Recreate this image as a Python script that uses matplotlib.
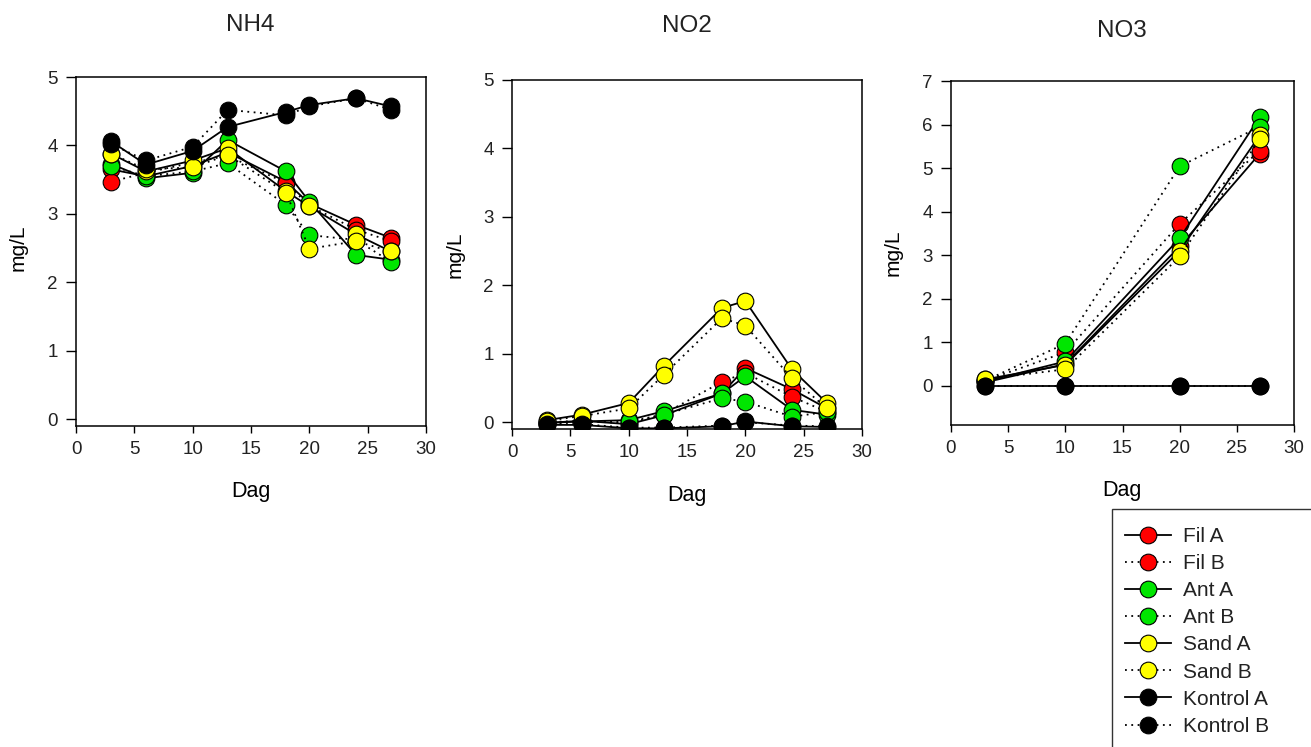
"""
Nitrogen species over time (NH4, NO2, NO3) for filter, Ant, sand and control columns.
Three panels side by side, shared legend at bottom right.
"""

import matplotlib
matplotlib.use("Agg")
import matplotlib.pyplot as plt
from matplotlib.lines import Line2D
from matplotlib.patches import Rectangle

plt.rcParams["font.family"] = ["Liberation Sans", "DejaVu Sans"]

W, H = 1311, 747

series_names = ["Fil A", "Fil B", "Ant A", "Ant B", "Sand A", "Sand B", "Kontrol A", "Kontrol B"]
series_colors = ["#ff0000", "#ff0000", "#00e600", "#00e600", "#ffff00", "#ffff00", "#000000", "#000000"]
series_styles = ["-", (0, (1, 2.5)), "-", (0, (1, 2.5)), "-", (0, (1, 2.5)), "-", (0, (1, 2.5))]

# NH4 (mg/L)
nh4_days = [3, 6, 10, 13, 18, 20, 24, 27]
nh4_fil_a = [3.65, 3.55, 3.70, 3.90, 3.47, 3.15, 2.84, 2.65]
nh4_fil_b = [3.47, 3.60, 3.75, 3.85, 3.45, 3.12, 2.77, 2.60]
nh4_ant_a = [3.73, 3.52, 3.60, 4.08, 3.62, 3.18, 2.40, 2.33]
nh4_ant_b = [3.70, 3.55, 3.62, 3.74, 3.13, 2.69, 2.62, 2.30]
nh4_sand_a = [3.88, 3.62, 3.78, 3.96, 3.33, 3.11, 2.70, 2.45]
nh4_sand_b = [3.88, 3.65, 3.68, 3.86, 3.31, 2.49, 2.60, 2.45]
nh4_kontrol_a = [4.06, 3.72, 3.92, 4.27, 4.49, 4.59, 4.69, 4.57]
nh4_kontrol_b = [4.02, 3.78, 3.98, 4.52, 4.44, 4.57, 4.69, 4.52]

# NO2 (mg/L)
no2_days = [3, 6, 10, 13, 18, 20, 24, 27]
no2_fil_a = [-0.01, 0.02, -0.03, 0.10, 0.42, 0.79, 0.48, 0.20]
no2_fil_b = [0.00, 0.02, -0.02, 0.12, 0.59, 0.72, 0.37, 0.15]
no2_ant_a = [-0.01, 0.01, 0.03, 0.16, 0.42, 0.67, 0.18, 0.11]
no2_ant_b = [-0.02, 0.00, 0.01, 0.11, 0.35, 0.30, 0.08, 0.15]
no2_sand_a = [0.03, 0.11, 0.28, 0.82, 1.67, 1.77, 0.77, 0.28]
no2_sand_b = [0.02, 0.09, 0.20, 0.69, 1.52, 1.41, 0.64, 0.20]
no2_kontrol_a = [-0.04, -0.04, -0.09, -0.09, -0.06, 0.01, -0.06, -0.07]
no2_kontrol_b = [-0.03, -0.03, -0.08, -0.08, -0.05, 0.00, -0.05, -0.06]

# NO3 (mg/L)
no3_days = [3, 10, 20, 27]
no3_fil_a = [0.08, 0.50, 3.20, 5.33]
no3_fil_b = [0.12, 0.77, 3.72, 5.40]
no3_ant_a = [0.10, 0.56, 3.39, 6.17]
no3_ant_b = [0.12, 0.97, 5.04, 5.95]
no3_sand_a = [0.15, 0.48, 3.10, 5.75]
no3_sand_b = [0.15, 0.38, 2.97, 5.66]
no3_kontrol_a = [0.00, 0.00, 0.00, 0.00]
no3_kontrol_b = [0.00, 0.00, 0.00, 0.00]

panels = [
    ("NH4", nh4_days, [nh4_fil_a, nh4_fil_b, nh4_ant_a, nh4_ant_b,
                       nh4_sand_a, nh4_sand_b, nh4_kontrol_a, nh4_kontrol_b],
     (-0.1, 5), range(0, 6)),
    ("NO2", no2_days, [no2_fil_a, no2_fil_b, no2_ant_a, no2_ant_b,
                       no2_sand_a, no2_sand_b, no2_kontrol_a, no2_kontrol_b],
     (-0.1, 5), range(0, 6)),
    ("NO3", no3_days, [no3_fil_a, no3_fil_b, no3_ant_a, no3_ant_b,
                       no3_sand_a, no3_sand_b, no3_kontrol_a, no3_kontrol_b],
     (-0.9, 7), range(0, 8)),
]

# axes boxes in pixels: left, top, right, bottom
boxes = [(76, 77, 426, 426), (512, 80, 862, 429), (951, 81, 1294, 425)]
# label positions in pixels: title (x, y), ylabel x, xlabel y
title_pos = [(250, 25), (687, 26), (1122, 31)]
ylabel_pos = [(18, 248), (455, 255), (893, 253)]
xlabel_pos = [(251, 492), (687, 495), (1122, 491)]

TEXT = "#222222"


def _fig_xy(x, y):
    return x / W, 1 - y / H


def _draw_panel(fig, box, title, days, values, ylim, yticks):
    l, t, r, b = box
    ax = fig.add_axes([l / W, 1 - b / H, (r - l) / W, (b - t) / H])
    for vals, col, ls in zip(values, series_colors, series_styles):
        ax.plot(days, vals, linestyle=ls, color="black", linewidth=1.3,
                marker="o", markersize=12, markerfacecolor=col,
                markeredgecolor="black", markeredgewidth=0.8)
    ax.set_xlim(0, 30)
    ax.set_ylim(*ylim)
    ax.set_xticks(range(0, 31, 5))
    ax.set_yticks(list(yticks))
    ax.tick_params(axis="y", direction="out", length=7, width=1, labelsize=13.5,
                   labelcolor=TEXT, pad=6)
    ax.tick_params(axis="x", direction="out", length=5, width=1, labelsize=13.5,
                   labelcolor=TEXT, pad=6)
    for s in ax.spines.values():
        s.set_linewidth(1.1)
    return ax


fig = plt.figure(figsize=(W / 100, H / 100), dpi=100)

for i, (title, days, values, ylim, yticks) in enumerate(panels):
    _draw_panel(fig, boxes[i], title, days, values, ylim, yticks)
    fig.text(*_fig_xy(*title_pos[i]), title, ha="center", va="center",
             fontsize=17.5, color=TEXT)
    fig.text(*_fig_xy(ylabel_pos[i][0], ylabel_pos[i][1]), "mg/L", ha="center",
             va="center", rotation=90, fontsize=15, color="black")
    fig.text(*_fig_xy(xlabel_pos[i][0], xlabel_pos[i][1]), "Dag", ha="center",
             va="center", fontsize=15.5, color="black")

# legend, frame drawn by hand since it runs off the canvas
fig.patches.append(Rectangle(_fig_xy(1112, 760), 300 / W, 251 / H,
                             transform=fig.transFigure, fill=False,
                             edgecolor="#333333", linewidth=1.0))
handles = [Line2D([], [], linestyle=ls, color="black", linewidth=1.3, marker="o",
                  markersize=12, markerfacecolor=col, markeredgecolor="black",
                  markeredgewidth=0.8)
           for col, ls in zip(series_colors, series_styles)]
fig.legend(handles, series_names, loc="upper left",
           bbox_to_anchor=_fig_xy(1125, 527), frameon=False, fontsize=15,
           borderpad=0, borderaxespad=0, handlelength=2.2, handletextpad=0.6,
           labelspacing=0.39, labelcolor=TEXT)

fig.savefig("out.png", dpi=100)
